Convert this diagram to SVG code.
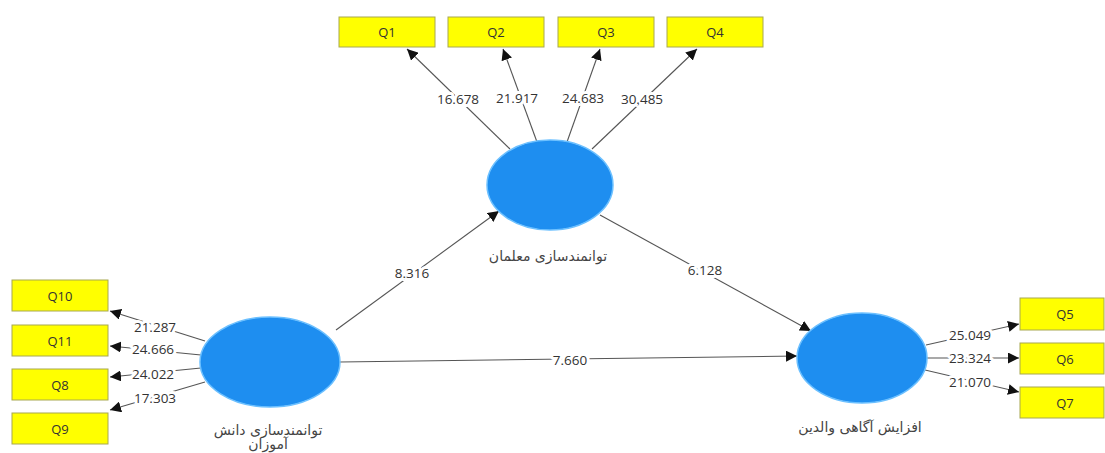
<svg xmlns="http://www.w3.org/2000/svg" width="1105" height="453" viewBox="0 0 1105 453">
<defs>
<marker id="ah" viewBox="0 0 10 10" refX="10" refY="5" markerWidth="11" markerHeight="11" markerUnits="userSpaceOnUse" orient="auto">
<path d="M0,0 L10,5 L0,10 z" fill="#111"/>
</marker>
<style>
.box{fill:#FFFF00;stroke:#A8A850;stroke-width:1}
.bt{font-family:"Open Sans","Noto Sans",sans-serif;font-size:13px;fill:#333;text-anchor:middle;dominant-baseline:central}
.lv{fill:#1E8EF0;stroke:#6CC0FF;stroke-width:1.5}
.lt{font-family:"DejaVu Sans","Noto Sans",sans-serif;font-size:14px;fill:#444;text-anchor:middle;dominant-baseline:central}
.ln{stroke:#555;stroke-width:1.1;fill:none;marker-end:url(#ah)}
.nm{font-family:"Open Sans","Noto Sans",sans-serif;font-size:13.5px;fill:#333;text-anchor:middle;dominant-baseline:central;stroke:#fff;stroke-width:6;paint-order:stroke;stroke-linejoin:round}
</style>
</defs>
<rect width="1105" height="453" fill="#fff"/>
<g id="connectors">
<line class="ln" x1="510" y1="149" x2="407" y2="49"/>
<line class="ln" x1="537" y1="142" x2="503" y2="49"/>
<line class="ln" x1="567" y1="142" x2="600" y2="49"/>
<line class="ln" x1="592" y1="149" x2="697" y2="49"/>
<line class="ln" x1="336" y1="330" x2="499" y2="211"/>
<line class="ln" x1="600" y1="215" x2="811" y2="331"/>
<line class="ln" x1="340" y1="362" x2="797" y2="356"/>
<line class="ln" x1="205" y1="341" x2="110" y2="311"/>
<line class="ln" x1="201" y1="355" x2="110" y2="346"/>
<line class="ln" x1="201" y1="368" x2="110" y2="377"/>
<line class="ln" x1="205" y1="382" x2="110" y2="410"/>
<line class="ln" x1="926" y1="345" x2="1019" y2="324"/>
<line class="ln" x1="927" y1="358" x2="1019" y2="358"/>
<line class="ln" x1="925" y1="370" x2="1019" y2="392"/>
<text class="nm" x="458" y="99">16.678</text>
<text class="nm" x="517" y="98">21.917</text>
<text class="nm" x="583" y="98">24.683</text>
<text class="nm" x="642" y="99">30.485</text>
<text class="nm" x="412" y="273">8.316</text>
<text class="nm" x="705" y="270">6.128</text>
<text class="nm" x="570" y="360">7.660</text>
<text class="nm" x="155" y="327">21.287</text>
<text class="nm" x="153" y="349">24.666</text>
<text class="nm" x="153" y="374">24.022</text>
<text class="nm" x="155" y="398">17.303</text>
<text class="nm" x="970" y="335">25.049</text>
<text class="nm" x="970" y="358">23.324</text>
<text class="nm" x="970" y="382">21.070</text>
</g>
<g id="Q1"><rect class="box" x="339" y="17" width="96" height="30"/><text class="bt" x="387" y="32">Q1</text></g>
<g id="Q2"><rect class="box" x="448" y="17" width="96" height="30"/><text class="bt" x="496" y="32">Q2</text></g>
<g id="Q3"><rect class="box" x="558" y="17" width="96" height="30"/><text class="bt" x="606" y="32">Q3</text></g>
<g id="Q4"><rect class="box" x="667" y="17" width="96" height="30"/><text class="bt" x="715" y="32">Q4</text></g>
<g id="Q10"><rect class="box" x="12" y="280" width="96" height="31"/><text class="bt" x="60" y="296">Q10</text></g>
<g id="Q11"><rect class="box" x="12" y="325" width="96" height="31"/><text class="bt" x="60" y="341">Q11</text></g>
<g id="Q8"><rect class="box" x="12" y="369" width="96" height="31"/><text class="bt" x="60" y="385">Q8</text></g>
<g id="Q9"><rect class="box" x="12" y="413" width="96" height="31"/><text class="bt" x="60" y="429">Q9</text></g>
<g id="Q5"><rect class="box" x="1020" y="298" width="84" height="32"/><text class="bt" x="1065" y="314">Q5</text></g>
<g id="Q6"><rect class="box" x="1020" y="343" width="84" height="31"/><text class="bt" x="1065" y="359">Q6</text></g>
<g id="Q7"><rect class="box" x="1020" y="387" width="84" height="31"/><text class="bt" x="1065" y="403">Q7</text></g>
<g id="teachers"><ellipse class="lv" cx="550" cy="185" rx="63" ry="45"/><text class="lt" x="548" y="256">توانمندسازی معلمان</text></g>
<g id="students"><ellipse class="lv" cx="270" cy="362" rx="70" ry="45"/><text class="lt" x="268" y="430">توانمندسازی دانش</text><text class="lt" x="268" y="444">آموزان</text></g>
<g id="parents"><ellipse class="lv" cx="862" cy="358" rx="65" ry="45"/><text class="lt" x="860" y="427">افزایش آگاهی والدین</text></g>
</svg>
